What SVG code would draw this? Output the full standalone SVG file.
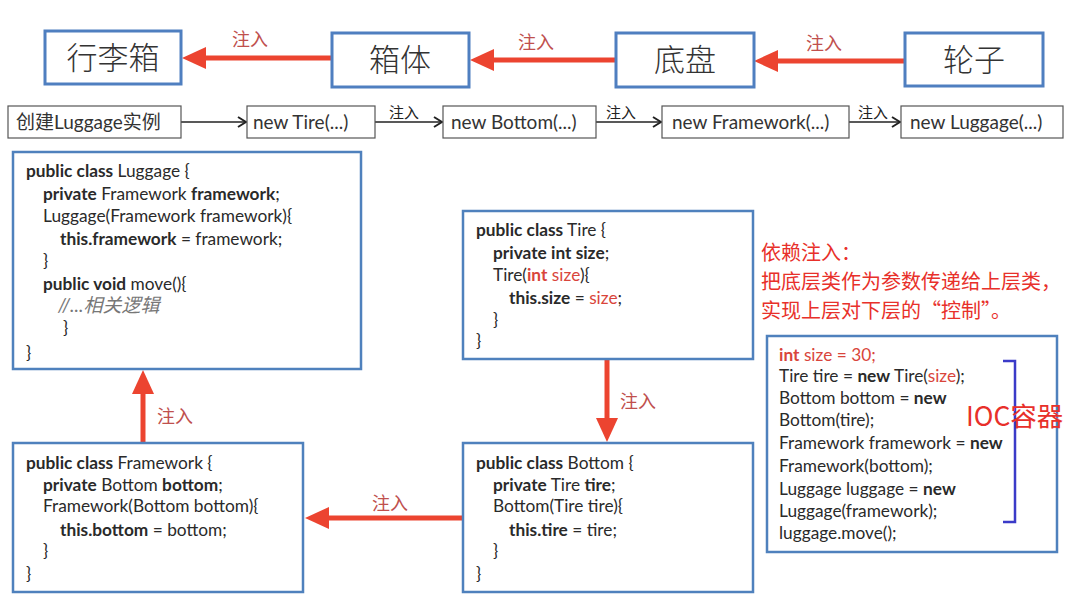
<svg xmlns="http://www.w3.org/2000/svg" width="1075" height="598" viewBox="0 0 1075 598">
<defs>
<style>
.big{fill:#fff;stroke:#4f7fc0;stroke-width:3}
.step{fill:#fff;stroke:#555;stroke-width:1.2}
.code{fill:#fff;stroke:#4f81bd;stroke-width:2.5}
.cn{font-family:"Noto Sans CJK SC",sans-serif;font-weight:300;fill:#333;font-size:31px;text-anchor:middle}
.st{font-family:Lato,"Noto Sans CJK SC",sans-serif;fill:#333;font-size:19px}
.c{font-family:Lato,"Noto Sans CJK SC",sans-serif;fill:#2a2a2a;font-size:17.3px}
.b{font-weight:bold}
.r{fill:#d9453b}
.cm{font-style:italic;fill:#777;font-size:19px}
.lbl{font-family:"Noto Sans CJK SC",sans-serif;fill:#c0504d;font-size:18px}
.lbls{font-family:"Noto Sans CJK SC",sans-serif;fill:#222;font-size:15px}
.note{font-family:"Noto Sans CJK SC",sans-serif;fill:#e8302a;font-size:20px}
.redline{stroke:#ec4430;stroke-width:5;fill:none}
.thin{stroke:#222;stroke-width:1.3;fill:none}
</style>
<marker id="rh" markerUnits="userSpaceOnUse" markerWidth="24" markerHeight="22" refX="2" refY="11" orient="auto"><path d="M0,0 L24,11 L0,22 z" fill="#ec4430"/></marker>
<marker id="bh" markerUnits="userSpaceOnUse" markerWidth="10" markerHeight="12" refX="9" refY="6" orient="auto"><path d="M1,1 L9,6 L1,11" fill="none" stroke="#222" stroke-width="2"/></marker>
</defs>
<rect width="1075" height="598" fill="#fff"/>

<g id="connectors">
<line class="redline" x1="332" y1="58" x2="204" y2="58" marker-end="url(#rh)"/>
<line class="redline" x1="616" y1="60" x2="492" y2="60" marker-end="url(#rh)"/>
<line class="redline" x1="905" y1="61" x2="776" y2="61" marker-end="url(#rh)"/>
<text class="lbl" x="232" y="46">注入</text>
<text class="lbl" x="518" y="49">注入</text>
<text class="lbl" x="806" y="50">注入</text>
<line class="thin" x1="181" y1="122" x2="246" y2="122" marker-end="url(#bh)"/>
<line class="thin" x1="375" y1="122" x2="442" y2="122" marker-end="url(#bh)"/>
<line class="thin" x1="596" y1="122" x2="661" y2="122" marker-end="url(#bh)"/>
<line class="thin" x1="849" y1="122" x2="900" y2="122" marker-end="url(#bh)"/>
<text class="lbls" x="389" y="118">注入</text>
<text class="lbls" x="606" y="118">注入</text>
<text class="lbls" x="858" y="118">注入</text>
<line class="redline" x1="607" y1="359" x2="607" y2="420" marker-end="url(#rh)"/>
<line class="redline" x1="463" y1="518" x2="327" y2="518" marker-end="url(#rh)"/>
<line class="redline" x1="143" y1="443" x2="143" y2="392" marker-end="url(#rh)"/>
<text class="lbl" x="620" y="408">注入</text>
<text class="lbl" x="372" y="510">注入</text>
<text class="lbl" x="157" y="423">注入</text>
</g>

<g id="n-luggage-top"><rect class="big" x="45" y="31" width="136" height="53"/><text class="cn" x="113" y="69">行李箱</text></g>
<g id="n-box"><rect class="big" x="332" y="33" width="137" height="54"/><text class="cn" x="400" y="71">箱体</text></g>
<g id="n-bottom-top"><rect class="big" x="616" y="33" width="138" height="54"/><text class="cn" x="685" y="71">底盘</text></g>
<g id="n-wheel"><rect class="big" x="905" y="33" width="138" height="53"/><text class="cn" x="974" y="71">轮子</text></g>

<g id="s-create"><rect class="step" x="8" y="106" width="173" height="32"/><text class="st" x="16" y="129">创建Luggage实例</text></g>
<g id="s-tire"><rect class="step" x="247" y="106" width="128" height="32"/><text class="st" x="253" y="129">new Tire(...)</text></g>
<g id="s-bottom"><rect class="step" x="443" y="106" width="153" height="32"/><text class="st" x="451" y="129">new Bottom(...)</text></g>
<g id="s-framework"><rect class="step" x="662" y="106" width="187" height="32"/><text class="st" x="672" y="129">new Framework(...)</text></g>
<g id="s-luggage"><rect class="step" x="901" y="106" width="162" height="32"/><text class="st" x="910" y="129">new Luggage(...)</text></g>

<g id="c-luggage"><rect class="code" x="13" y="152" width="348" height="217"/>
<text class="c" x="26" y="177"><tspan class="b">public class</tspan> Luggage {</text>
<text class="c" x="43" y="199.5"><tspan class="b">private</tspan> Framework <tspan class="b">framework</tspan>;</text>
<text class="c" x="43" y="222">Luggage(Framework framework){</text>
<text class="c" x="60" y="244.5"><tspan class="b">this.framework</tspan> = framework;</text>
<text class="c" x="43" y="267">}</text>
<text class="c" x="43" y="289.5"><tspan class="b">public void</tspan> move(){</text>
<text class="c cm" x="58" y="312">//...相关逻辑</text>
<text class="c" x="63" y="334">}</text>
<text class="c" x="26" y="359">}</text>
</g>

<g id="c-tire"><rect class="code" x="463" y="211" width="290" height="148"/>
<text class="c" x="476" y="236"><tspan class="b">public class</tspan> Tire {</text>
<text class="c" x="493" y="259"><tspan class="b">private int size</tspan>;</text>
<text class="c" x="493" y="281">Tire(<tspan class="b r">int</tspan><tspan class="r"> size</tspan>){</text>
<text class="c" x="509" y="304"><tspan class="b">this.size</tspan> = <tspan class="r">size</tspan>;</text>
<text class="c" x="493" y="326">}</text>
<text class="c" x="476" y="347">}</text>
</g>

<g id="c-bottom"><rect class="code" x="463" y="443" width="290" height="149"/>
<text class="c" x="476" y="469"><tspan class="b">public class</tspan> Bottom {</text>
<text class="c" x="493" y="491"><tspan class="b">private</tspan> Tire <tspan class="b">tire</tspan>;</text>
<text class="c" x="493" y="512">Bottom(Tire tire){</text>
<text class="c" x="509" y="536"><tspan class="b">this.tire</tspan> = tire;</text>
<text class="c" x="493" y="557">}</text>
<text class="c" x="476" y="580">}</text>
</g>

<g id="c-framework"><rect class="code" x="13" y="443" width="290" height="149"/>
<text class="c" x="26" y="469"><tspan class="b">public class</tspan> Framework {</text>
<text class="c" x="43" y="491"><tspan class="b">private</tspan> Bottom <tspan class="b">bottom</tspan>;</text>
<text class="c" x="43" y="512">Framework(Bottom bottom){</text>
<text class="c" x="60" y="536"><tspan class="b">this.bottom</tspan> = bottom;</text>
<text class="c" x="43" y="557">}</text>
<text class="c" x="26" y="580">}</text>
</g>

<g id="note">
<text class="note" x="761" y="259.5">依赖注入：</text>
<text class="note" x="761" y="289">把底层类作为参数传递给上层类，</text>
<text class="note" x="761" y="318">实现上层对下层的“控制”。</text>
</g>

<g id="c-ioc"><rect class="code" x="767" y="336" width="290" height="216"/>
<text class="c r" x="779" y="360.5"><tspan class="b">int</tspan> size = 30;</text>
<text class="c" x="779" y="382">Tire tire = <tspan class="b">new</tspan> Tire(<tspan class="r">size</tspan>);</text>
<text class="c" x="779" y="404">Bottom bottom = <tspan class="b">new</tspan></text>
<text class="c" x="779" y="426">Bottom(tire);</text>
<text class="c" x="779" y="449">Framework framework = <tspan class="b">new</tspan></text>
<text class="c" x="779" y="472">Framework(bottom);</text>
<text class="c" x="779" y="495">Luggage luggage = <tspan class="b">new</tspan></text>
<text class="c" x="779" y="517">Luggage(framework);</text>
<text class="c" x="779" y="539">luggage.move();</text>
<path d="M1003,361 H1015 V522 H1003" fill="none" stroke="#3b3bc8" stroke-width="2.5"/>
<text x="966" y="426" style="font-family:'Noto Sans CJK SC',sans-serif;font-size:26.5px;fill:#e8302a">IOC容器</text>
</g>
</svg>
